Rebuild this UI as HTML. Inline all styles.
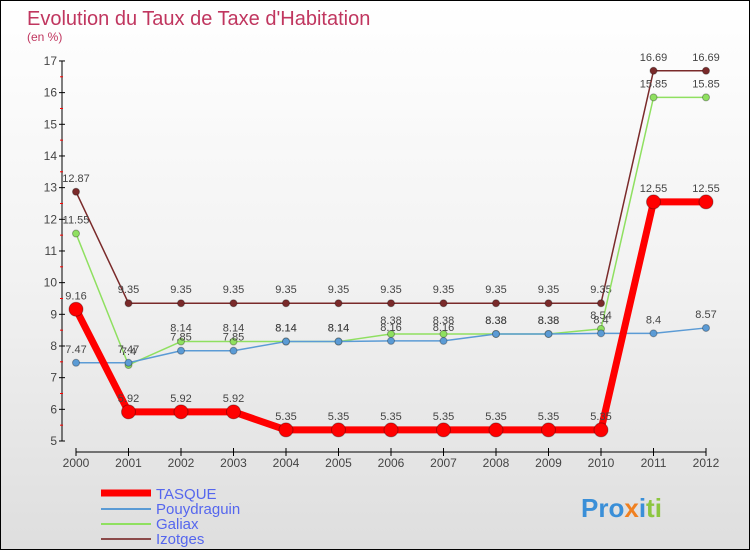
<!DOCTYPE html>
<html><head><meta charset="utf-8"><style>
body{margin:0;}
#c{width:750px;height:550px;position:relative;box-sizing:border-box;border:1px solid #000;background:linear-gradient(#fff 0%,#f2f2f2 50%,#dedede 100%);overflow:hidden;font-family:"Liberation Sans",sans-serif;}
</style></head><body>
<div id="c">
<svg id="s" width="750" height="550" style="position:absolute;left:0;top:0">
<text x="26" y="24" font-size="20" fill="#c0365f">Evolution du Taux de Taxe d'Habitation</text>
<text x="26" y="40" font-size="12" fill="#c0365f">(en %)</text>
<g id="ax"></g><g id="ser"></g>
<g>
<line x1="100" y1="492" x2="150" y2="492" stroke="#f00" stroke-width="7"/>
<text x="155" y="498" font-size="15" fill="#5566ee">TASQUE</text>
<line x1="100" y1="508" x2="150" y2="508" stroke="#5b9bd5" stroke-width="2"/>
<text x="155" y="513" font-size="15" fill="#5566ee">Pouydraguin</text>
<line x1="100" y1="523" x2="150" y2="523" stroke="#8fe060" stroke-width="2"/>
<text x="155" y="528" font-size="15" fill="#5566ee">Galiax</text>
<line x1="100" y1="538" x2="150" y2="538" stroke="#8b4a4a" stroke-width="2"/>
<text x="155" y="543" font-size="15" fill="#5566ee">Izotges</text>
</g>
<text x="580" y="516" font-size="26" font-weight="bold"><tspan fill="#3a8fd8">Pro</tspan><tspan fill="#f08020">x</tspan><tspan fill="#3a8fd8">i</tspan><tspan fill="#8cc63f">ti</tspan></text>
</svg>
</div>
<script>
const years=[2000,2001,2002,2003,2004,2005,2006,2007,2008,2009,2010,2011,2012];
const yTicks=[5,6,7,8,9,10,11,12,13,14,15,16,17];
const tasque=[9.16,5.92,5.92,5.92,5.35,5.35,5.35,5.35,5.35,5.35,5.35,12.55,12.55];
const pouydraguin=[7.47,7.47,7.85,7.85,8.14,8.14,8.16,8.16,8.38,8.38,8.4,8.4,8.57];
const galiax=[11.55,7.4,8.14,8.14,8.14,8.14,8.38,8.38,8.38,8.38,8.54,15.85,15.85];
const izotges=[12.87,9.35,9.35,9.35,9.35,9.35,9.35,9.35,9.35,9.35,9.35,16.69,16.69];
const NS="http://www.w3.org/2000/svg";
const X=i=>75+i*52.5, Y=v=>440-(v-5)*31.67;
function mk(t,a,p){const e=document.createElementNS(NS,t);for(const k in a)e.setAttribute(k,a[k]);p.appendChild(e);return e;}
const ax=document.getElementById('ax');
let l=mk('line',{x1:61,y1:Y(17),x2:61,y2:Y(5),stroke:'#000'},ax);


l=mk('line',{x1:X(0),y1:451,x2:X(12),y2:451,stroke:'#000'},ax);


yTicks.forEach(v=>{mk('line',{x1:58,x2:64,y1:Y(v),y2:Y(v),stroke:'#000'},ax);
 if(v<17)mk('line',{x1:59,x2:62,y1:Y(v+0.5),y2:Y(v+0.5),stroke:'#f00'},ax);
 const t=mk('text',{x:56,y:Y(v)+4,'font-size':12,fill:'#444','text-anchor':'end'},ax);t.textContent=v;
 
 });
years.forEach((yr,i)=>{mk('line',{x1:X(i),x2:X(i),y1:447,y2:455,stroke:'#000'},ax);
 const t=mk('text',{x:X(i),y:466,'font-size':12,fill:'#444','text-anchor':'middle'},ax);t.textContent=yr;
 
 });
const ser=document.getElementById('ser');
function draw(d,col,w,r,name){const g=mk('g',{},ser);
 
 
 mk('polyline',{points:d.map((v,i)=>X(i)+','+Y(v)).join(' '),fill:'none',stroke:col,'stroke-width':w,'stroke-linejoin':'round'},g);
 d.forEach((v,i)=>{const c=mk('circle',{cx:X(i),cy:Y(v),r:r,fill:col,stroke:'rgba(0,0,0,0.3)'},g);
  
  
  const t=mk('text',{x:X(i),y:Y(v)-10,'font-size':11,fill:'#444','text-anchor':'middle'},g);t.textContent=v;});}
draw(izotges,'#7a2a2a',1.5,3.5,'izotges');
draw(galiax,'#8fe060',1.5,3.5,'galiax');
draw(pouydraguin,'#5b9bd5',1.5,3.5,'pouydraguin');
draw(tasque,'#f00',7,7,'tasque');
</script>
</body></html>
